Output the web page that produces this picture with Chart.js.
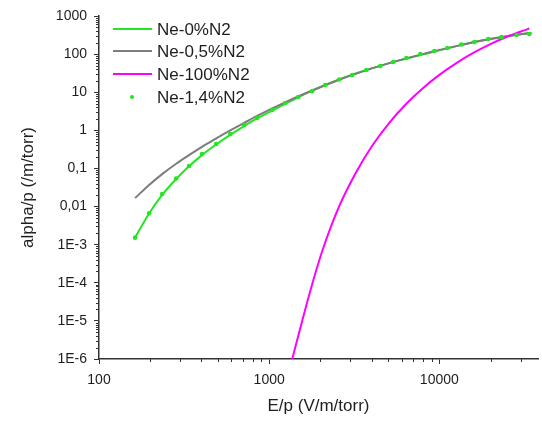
<!DOCTYPE html>
<html>
<head>
<meta charset="utf-8">
<script src="https://cdn.jsdelivr.net/npm/chart.js@4"></script>
<style>
  html, body { margin: 0; padding: 0; background: #fff; }
  #wrap { width: 542px; height: 423px; }
</style>
</head>
<body>
<div id="wrap"><canvas id="chart" width="542" height="423"></canvas></div>
<script>
// series values
const eGreen = [163, 197, 235, 284, 338, 403, 490, 590, 713, 849, 1042, 1500, 2170, 3250, 5080, 7940, 12590, 19660, 30800, 34750];
const aGreen = [0.00155, 0.0066, 0.0202, 0.053, 0.114, 0.224, 0.43, 0.76, 1.29, 2.05, 3.3, 7.6, 16.0, 31.5, 58, 97, 162, 248, 337, 357];

const eGray = [163, 197, 235, 284, 338, 403, 494, 590, 713, 849, 1042, 1259, 1500, 1791, 2170, 2580, 3250, 5080, 7940, 12590, 19660, 30800, 34750];
const aGray = [0.0167, 0.0369, 0.0711, 0.133, 0.224, 0.369, 0.631, 0.991, 1.57, 2.38, 3.77, 5.6, 7.94, 11.1, 15.7, 21.2, 30.8, 58.0, 100, 162, 244, 337, 361];

const eMagenta = [1366, 1563, 1791, 2051, 2580, 3250, 4040, 5080, 6400, 7940, 10000, 12590, 15640, 19660, 24760, 30800, 33800];
const aMagenta = [1e-6, 1e-5, 9.3e-5, 6.8e-4, 0.0102, 0.081, 0.40, 1.58, 5.0, 12.4, 28.5, 58.2, 104, 177, 281, 406, 468];

const eDots = [163, 197, 235, 284, 338, 403, 488, 590, 713, 849, 1042, 1242, 1482, 1791, 2135, 2580, 3077, 3720, 4500, 5360, 6400, 7730, 9350, 11150, 13460, 16060, 19400, 23200, 28400, 33800];
const aDots = [0.00153, 0.0067, 0.0213, 0.0543, 0.116, 0.239, 0.437, 0.8, 1.38, 2.1, 3.41, 5.21, 7.48, 10.7, 15.5, 21.5, 28.3, 38.3, 48.7, 62.1, 79.1, 101, 121, 145, 179, 208, 249, 281, 317, 338];

const seriesNames = ['Ne-0%N2', 'Ne-0,5%N2', 'Ne-100%N2', 'Ne-1,4%N2'];

const xTickValues = [100, 1000, 10000];
const xTickLabels = ['100', '1000', '10000'];
const yTickValues = [1000, 100, 10, 1, 0.1, 0.01, 1e-3, 1e-4, 1e-5, 1e-6];
const yTickLabels = ['1000', '100', '10', '1', '0,1', '0,01', '1E-3', '1E-4', '1E-5', '1E-6'];

const GREEN = '#22e622';
const GRAY = '#7d7d7d';
const MAGENTA = '#ff00ff';
const AXIS = '#333';
const TEXT = '#1e1e1e';

const pts = (xs, ys) => xs.map((x, i) => ({ x: x, y: ys[i] }));

// minor ticks on both log axes
const minorTicks = {
  id: 'minorTicks',
  afterDraw(chart) {
    const ctx = chart.ctx;
    const xs = chart.scales.x, ys = chart.scales.y;
    ctx.save();
    ctx.strokeStyle = AXIS;
    ctx.lineWidth = 1;
    ctx.beginPath();
    for (let d = 100; d < xs.max; d *= 10) {
      for (let m = 2; m <= 9; m++) {
        const v = d * m;
        if (v > xs.max) break;
        const px = Math.round(xs.getPixelForValue(v)) + 0.5;
        ctx.moveTo(px, xs.top);
        ctx.lineTo(px, xs.top + 3);
      }
    }
    for (let d = 1e-6; d < 1000; d *= 10) {
      for (let m = 2; m <= 9; m++) {
        const py = Math.round(ys.getPixelForValue(d * m)) + 0.5;
        ctx.moveTo(ys.right, py);
        ctx.lineTo(ys.right - 3, py);
      }
    }
    ctx.stroke();
    ctx.restore();
  }
};

// legend in the top-left corner of the plot
const cornerLegend = {
  id: 'cornerLegend',
  afterDraw(chart) {
    const ctx = chart.ctx;
    const rows = [29, 51, 74, 97];
    ctx.save();
    ctx.font = '17px "Liberation Sans", Arial, sans-serif';
    ctx.textBaseline = 'middle';
    ctx.textAlign = 'left';
    chart.data.datasets.forEach((ds, i) => {
      const y = rows[i];
      if (ds.showLine === false) {
        ctx.fillStyle = ds.pointBackgroundColor;
        ctx.beginPath();
        ctx.arc(132, y, 2, 0, Math.PI * 2);
        ctx.fill();
      } else {
        ctx.strokeStyle = ds.borderColor;
        ctx.lineWidth = 2;
        ctx.beginPath();
        ctx.moveTo(113, y);
        ctx.lineTo(152, y);
        ctx.stroke();
      }
      ctx.fillStyle = TEXT;
      ctx.fillText(ds.label, 157, y + 1);
    });
    ctx.restore();
  }
};

const ctx = document.getElementById('chart').getContext('2d');
new Chart(ctx, {
  type: 'line',
  data: {
    datasets: [
      {
        label: seriesNames[0],
        data: pts(eGreen, aGreen),
        borderColor: GREEN,
        borderWidth: 2,
        pointRadius: 0,
        cubicInterpolationMode: 'monotone',
        order: 3
      },
      {
        label: seriesNames[1],
        data: pts(eGray, aGray),
        borderColor: GRAY,
        borderWidth: 2,
        pointRadius: 0,
        cubicInterpolationMode: 'monotone',
        order: 2
      },
      {
        label: seriesNames[2],
        data: pts(eMagenta, aMagenta),
        borderColor: MAGENTA,
        borderWidth: 2,
        pointRadius: 0,
        cubicInterpolationMode: 'monotone',
        order: 1
      },
      {
        label: seriesNames[3],
        data: pts(eDots, aDots),
        showLine: false,
        borderColor: GREEN,
        pointBackgroundColor: GREEN,
        pointBorderWidth: 0,
        pointRadius: 2.3,
        order: 0
      }
    ]
  },
  options: {
    responsive: false,
    animation: false,
    layout: { padding: { left: 0, top: 16, right: 2, bottom: 0 } },
    plugins: {
      legend: { display: false },
      tooltip: { enabled: false }
    },
    scales: {
      x: {
        type: 'logarithmic',
        min: 100,
        max: 38000,
        afterBuildTicks: s => { s.ticks = xTickValues.map(v => ({ value: v })); },
        afterFit: s => { s.height = 64; },
        ticks: {
          autoSkip: false,
          maxRotation: 0,
          padding: 8,
          color: TEXT,
          font: { family: '"Liberation Sans", Arial, sans-serif', size: 14 },
          callback: (v, i) => xTickLabels[i]
        },
        grid: { display: true, drawOnChartArea: false, drawTicks: true, tickLength: 5, color: AXIS, lineWidth: 1 },
        border: { display: true, color: AXIS, width: 1.5 },
        title: {
          display: true,
          text: 'E/p (V/m/torr)',
          color: TEXT,
          padding: { top: 0, bottom: 6 },
          font: { family: '"Liberation Sans", Arial, sans-serif', size: 17 }
        }
      },
      y: {
        type: 'logarithmic',
        min: 1e-6,
        max: 1000,
        afterBuildTicks: s => { s.ticks = yTickValues.map(v => ({ value: v })); },
        afterFit: s => { s.width = 99; },
        ticks: {
          autoSkip: false,
          padding: 7,
          color: TEXT,
          font: { family: '"Liberation Sans", Arial, sans-serif', size: 14 },
          callback: (v, i) => yTickLabels[i]
        },
        grid: { display: true, drawOnChartArea: false, drawTicks: true, tickLength: 5, color: AXIS, lineWidth: 1 },
        border: { display: true, color: AXIS, width: 1.5 },
        title: {
          display: true,
          text: 'alpha/p (/m/torr)',
          color: TEXT,
          padding: { top: 18, bottom: 0 },
          font: { family: '"Liberation Sans", Arial, sans-serif', size: 17 }
        }
      }
    }
  },
  plugins: [minorTicks, cornerLegend]
});
</script>
</body>
</html>
